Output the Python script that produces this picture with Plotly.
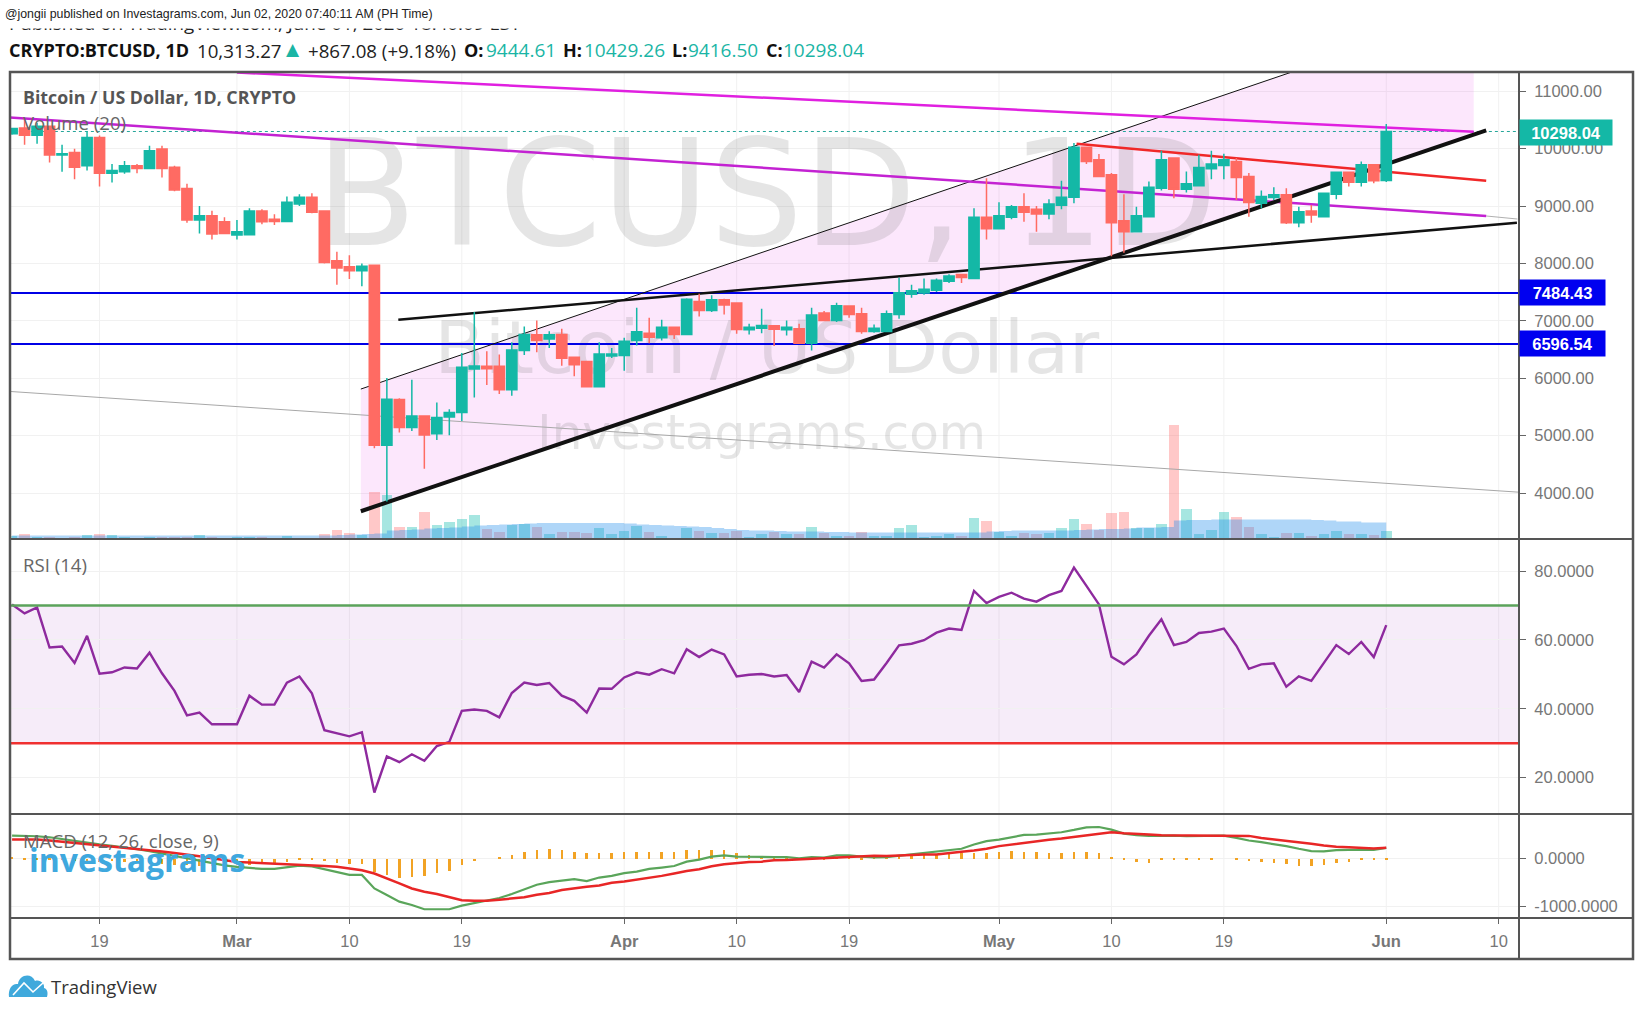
import pandas as pd
import plotly.graph_objects as go

W, H = 1643, 1014

# ---- daily bars, 12 Feb 2020 to 1 Jun 2020 ----
dates = pd.date_range("2020-02-12", "2020-06-01", freq="D")

opens = [10260,10360,10232,10389,9887,9934,9701,10195,9572,9596,9701,9654,9993,9677,9304,8756,8832,8727,8493,8499,
         8913,8767,8732,9035,9152,8913,8044,7940,7870,7969,4830,5630,5140,5343,5034,5326,5402,6160,6207,6207,
         5799,6481,6755,6685,6761,6364,6289,5851,6388,6394,6656,6784,6703,6889,6761,7338,7181,7368,7309,6843,
         6872,6913,6843,6860,6609,7134,7006,7257,7123,6814,6814,7111,7461,7484,7531,7689,7805,7735,8803,8604,
         8803,8989,8943,8861,9013,9153,10022,9806,9544,8744,8552,8814,9310,9835,9293,9351,9649,9707,9777,9514,
         9048,9147,9194,8709,8914,8814,9205,9590,9415,9718,9444.61]
highs = [10360,10535,10447,10389,10068,9998,10300,10230,9730,9782,9730,10050,10050,9700,9386,9000,8919,8802,8756,8960,
         8942,8855,9164,9205,9222,8913,8202,8143,8000,7970,6003,5650,5974,5343,5577,5460,6440,7152,6470,6411,
         6627,6901,7006,6820,6860,6364,6289,6627,6528,6703,7228,7053,7018,6889,7395,7473,7443,7385,7309,6948,
         7210,6913,7006,6948,7228,7169,7315,7257,7228,6936,7181,7753,7630,7735,7735,7811,7805,8960,9485,9065,
         9019,9223,9001,9118,9439,10098,10022,9905,9573,9205,8989,9427,9964,9835,9602,9894,9964,9911,9835,9573,
         9269,9328,9310,8989,9019,9223,9602,9602,9777,9718,10429.26]
lows = [10240,10068,10086,9759,9596,9467,9619,9339,9410,9560,9572,9654,9496,9257,8709,8522,8417,8522,8417,8499,
        8680,8668,8732,9000,8872,7997,7630,7730,7600,4778,3850,5052,5081,4422,4924,5005,5256,5665,5880,5723,
        5694,6405,6452,6528,6218,6032,5851,5851,6353,6131,6569,6609,6656,6685,6761,7076,7152,7111,6773,6761,
        6784,6563,6744,6609,6481,7006,6977,7053,6773,6790,6814,7035,7403,7455,7502,7660,7660,7735,8418,8604,
        8768,8727,8552,8768,8943,9048,9730,9514,8126,8184,8552,8814,9269,9135,9234,9351,9468,9468,9106,8814,
        8960,9106,8686,8628,8709,8814,9118,9340,9340,9398,9416.50]
closes = [10350,10232,10389,9887,9910,9677,10195,9572,9619,9701,9654,9964,9654,9280,8756,8832,8511,8522,8552,8913,
          8727,8732,9065,9152,8890,8015,7922,7870,7952,4831,5635,5140,5343,5011,5314,5402,6190,6213,6166,5799,
          6493,6761,6656,6755,6347,6236,5851,6423,6423,6644,6808,6714,6889,6761,7374,7181,7368,7274,6849,6889,
          6919,6854,6889,6609,7099,7006,7263,7111,6814,6872,7123,7490,7525,7549,7706,7782,7753,8803,8604,8832,
          8989,8890,8861,9036,9153,10022,9777,9514,8709,8552,8832,9328,9806,9293,9386,9672,9730,9806,9497,9059,
          9164,9194,8709,8902,8844,9223,9590,9415,9718,9439,10298.04]

volumes = [4,6,3,3,2,3,5,6,5,3,1,3,3,3,3,5,3,2,3,3,
           3,2,4,2,2,6,10,7,5,48,45,13,13,28,15,18,21,25,11,8,
           15,16,13,6,8,8,7,12,6,9,14,8,4,2,12,9,7,7,9,3,
           6,8,6,6,13,7,4,4,8,4,4,12,15,3,4,6,4,22,19,8,
           4,7,6,7,12,21,16,10,27,28,12,12,16,115,31,6,10,28,23,13,
           6,3,7,7,4,6,9,6,6,5,9]
volume_ma = [4,4,4,4,4,4,4,4,4,4,4,4,4,4,4,4,4,4,4,4,
             4,4,4,4,4,4,4.5,5,5.5,6,9,9.5,10,11,11.5,12,13,14,14.5,15,
             15.5,16,16.5,16.5,16.5,16.5,16.5,16.5,16.5,16,15,14.5,14,13.5,13,12.5,11.5,10.5,9.5,9,
             9,8.5,8,8,8,7.5,7.5,7,7,7,7,7,7,7,7,7,7,7,8,8.5,
             9,9,9,9,9,9.5,10,10.5,10.5,11,12,12,12.5,19,19.5,19.5,20,20,20,20,
             20,20,20,20,19.5,19,18,18,17,17,16]

rsi = [70.3,67.7,69.4,57.8,58.1,53.3,61.2,50.2,50.6,52,51.7,56.3,50.3,45.2,38.1,38.9,35.5,35.5,35.5,43.8,
       41.2,41.2,47.6,49.4,44.5,33.8,32.9,32,33.2,15.7,26.2,24.5,26.8,24.9,29.2,30.4,39.4,39.8,39.4,37.5,
       44.6,47.6,46.9,47.5,43.8,42.3,38.9,45.9,45.8,49.1,50.6,49.9,51.5,50.3,57.3,55,57.2,55.8,49.4,49.9,
       50.1,49.4,49.8,44.9,53.7,52,55.8,53.2,48.1,48.5,53.3,58.4,58.9,59.9,62.1,63.3,62.9,74.2,70.7,72.5,
       73.7,72,71.1,73,74.2,81,75.7,70.3,55.1,52.9,55.8,61.2,66,58.5,59.4,62,62.4,63.3,58.3,51.6,
       52.9,53.2,46.4,49.4,48.1,53.4,58.5,55.9,59.4,55,64.3]

macd_line = [486,486,472,450,410,370,333,300,270,240,200,160,110,60,0,-50,-100,-140,-173,-200,
             -215,-215,-180,-146,-160,-222,-278,-340,-340,-625,-763,-902,-972,-1062,-1062,-1062,-985,-930,-867,-826,
             -743,-645,-548,-493,-465,-430,-472,-396,-361,-305,-271,-215,-187,-153,-62,-21,42,69,42,35,
             35,35,35,7,35,21,69,69,42,28,35,62,90,125,153,180,208,298,368,402,
             458,500,507,527,555,604,659,666,611,527,493,479,486,486,472,472,486,486,437,382,
             347,312,264,208,160,153,180,187,187,187,229]
macd_signal = [402,402,402,380,355,333,310,285,264,240,210,180,150,120,90,50,10,-30,-69,-80,
               -90,-100,-111,-130,-146,-153,-167,-208,-243,-312,-409,-520,-625,-694,-743,-805,-874,-881,-881,-860,
               -840,-812,-756,-722,-659,-618,-590,-562,-507,-479,-444,-409,-361,-312,-257,-222,-160,-118,-90,-69,
               -62,-35,-28,-15,5,15,28,40,55,62,55,69,83,90,90,111,146,173,208,264,
               298,340,375,396,423,458,493,520,555,534,527,507,493,493,493,493,493,479,479,479,
               437,402,382,347,312,278,250,243,222,215,229]
macd_hist = [15,-15,-20,-25,-30,-40,-45,-70,-55,-70,-75,-90,-110,-130,-140,-150,-160,-150,-130,-130,
             -100,-100,-70,-20,-15,-50,-100,-120,-110,-280,-340,-410,-380,-370,-310,-250,-140,-50,0,15,
             85,145,190,210,180,150,115,115,115,140,140,140,140,140,180,180,180,180,115,75,
             50,40,30,10,10,-10,15,20,-8,10,25,50,70,85,85,100,110,125,130,140,
             165,140,140,120,110,140,140,120,15,-20,-70,-80,-20,-25,-25,-30,-35,0,-20,-50,
             -70,-80,-110,-150,-160,-130,-90,-60,-30,-20,-10]

# ---- drawing tools on the price pane ----
level_upper = 7484.43
level_lower = 6596.54
last_close = 10298.04

channel_x = ["2020-03-10 22:00", "2020-06-08", "2020-06-08", "2020-03-10 22:00", "2020-03-10 22:00"]
channel_y = [3682, 10249, 12413, 5811, 3682]
support_x = ["2020-03-10 22:00", "2020-06-09"]
support_y = [3682, 10318]
channel_top_x = ["2020-03-10 22:00", "2020-06-08"]
channel_top_y = [5811, 12413]
wedge_x = ["2020-03-13 22:00", "2020-06-11 11:00"]
wedge_y = [7018, 8709]
resist_high_x = ["2020-03-01", "2020-06-08"]
resist_high_y = [11326, 10295]
resist_mid_x = ["2020-02-11 20:00", "2020-06-09"]
resist_mid_y = [10540, 8826]
resist_tail_x = ["2020-06-09", "2020-06-11 12:00"]
resist_tail_y = [8826, 8773]
red_x = ["2020-05-07 05:00", "2020-06-09"]
red_y = [10086, 9438]
grey_x = ["2020-02-11 20:00", "2020-06-11 15:00"]
grey_y = [5769, 4014]

date_ticks = ["2020-02-19","2020-03-01","2020-03-10","2020-03-19","2020-04-01","2020-04-10",
              "2020-04-19","2020-05-01","2020-05-10","2020-05-19","2020-06-01","2020-06-10"]
date_labels = ["19","<b>Mar</b>","10","19","<b>Apr</b>","10","19","<b>May</b>","10","19","<b>Jun</b>","10"]
price_ticks = [4000,5000,6000,7000,8000,9000,10000,11000]
rsi_ticks = [20,40,60,80]
macd_ticks = [-1000,0]

TEAL, RED = "#14b8a6", "#ff6b63"
AXIS_FONT = dict(family="Liberation Sans", size=16.5, color="#777777")
SANS = "Open Sans"
MARK = "DejaVu Sans"
ONE_DAY_MS = 86400000


def px(x):
    return x / W


def py(y):
    return 1 - y / H


fig = go.Figure()

# pink channel and large background captions
fig.add_trace(go.Scatter(x=channel_x, y=channel_y, yaxis="y", mode="none", fill="toself",
                         fillcolor="rgba(230,60,230,0.12)", hoverinfo="skip"))
for caption, cx, cy, size in [("BTCUSD, 1D", "2020-04-12 10:00", 8955, 147.5),
                              ("Bitcoin / US Dollar", "2020-04-12 10:00", 6417, 73.5),
                              ("Investagrams.com", "2020-04-12 00:00", 4970, 48.4)]:
    fig.add_trace(go.Scatter(x=[cx], y=[cy], yaxis="y", mode="text", text=[caption], textposition="middle center",
                             textfont=dict(family=MARK, size=size, color="rgba(110,110,110,0.18)"), hoverinfo="skip"))

# volume
bar_colors = ["rgba(20,190,175,0.38)" if c >= o else "rgba(255,110,110,0.38)" for o, c in zip(opens, closes)]
fig.add_trace(go.Bar(x=dates, y=volumes, yaxis="y2", marker=dict(color=bar_colors, line_width=0),
                     width=0.84 * ONE_DAY_MS, hoverinfo="skip"))
fig.add_trace(go.Scatter(x=dates, y=volume_ma, yaxis="y2", mode="none", fill="tozeroy", line_shape="hv",
                         fillcolor="rgba(33,140,235,0.36)", hoverinfo="skip"))

# trend lines and levels
span = [dates[0] - pd.Timedelta(hours=10), "2020-06-11 15:00"]
segments = [
    (grey_x, grey_y, "#a8a8a8", 1, "solid"),
    (resist_tail_x, resist_tail_y, "#b0b0b0", 1, "solid"),
    (span, [level_upper] * 2, "#0000e6", 2, "solid"),
    (span, [level_lower] * 2, "#0000e6", 2, "solid"),
    (span, [last_close] * 2, "#26a69a", 1, "dot"),
    (channel_top_x, channel_top_y, "#111111", 1, "solid"),
    (wedge_x, wedge_y, "#111111", 2.5, "solid"),
    (resist_high_x, resist_high_y, "#e020e0", 2.5, "solid"),
    (resist_mid_x, resist_mid_y, "#c322d2", 2.5, "solid"),
    (red_x, red_y, "#f02828", 2.5, "solid"),
    (support_x, support_y, "#111111", 4, "solid"),
]
for sx, sy, col, lw, dash in segments:
    fig.add_trace(go.Scatter(x=sx, y=sy, yaxis="y3", mode="lines", line=dict(color=col, width=lw, dash=dash),
                             hoverinfo="skip"))

# candles
fig.add_trace(go.Candlestick(x=dates, open=opens, high=highs, low=lows, close=closes, yaxis="y4",
                             increasing=dict(line=dict(color=TEAL, width=1.5), fillcolor=TEAL),
                             decreasing=dict(line=dict(color=RED, width=1.5), fillcolor=RED),
                             whiskerwidth=0, hoverinfo="skip"))

# RSI pane
fig.add_trace(go.Scatter(x=dates, y=rsi, yaxis="y5", mode="lines", line=dict(color="#8e2a9e", width=2.4),
                         hoverinfo="skip"))
fig.add_trace(go.Scatter(x=span, y=[70, 70], yaxis="y5", mode="lines", line=dict(color="#5ba35b", width=2.4),
                         hoverinfo="skip"))
fig.add_trace(go.Scatter(x=span, y=[30, 30], yaxis="y5", mode="lines", line=dict(color="#f03030", width=2.4),
                         hoverinfo="skip"))

# MACD pane
fig.add_trace(go.Bar(x=dates, y=macd_hist, yaxis="y6", marker=dict(color="#f2a324", line_width=0),
                     width=0.2 * ONE_DAY_MS, hoverinfo="skip"))
fig.add_trace(go.Scatter(x=dates, y=macd_line, yaxis="y6", mode="lines", line=dict(color="#5aa55a", width=2.2),
                         hoverinfo="skip"))
fig.add_trace(go.Scatter(x=dates, y=macd_signal, yaxis="y6", mode="lines", line=dict(color="#e82626", width=2.5),
                         hoverinfo="skip"))


def ann(text, x, y, size, color="#333333", family=SANS, bold=False, **kw):
    label = f"<b>{text}</b>" if bold else text
    base = dict(text=label, x=px(x), y=py(y), xref="paper", yref="paper", xanchor="left", yanchor="middle",
                showarrow=False, font=dict(family=family, size=size, color=color), xshift=-2)
    base.update(kw)
    return base


def hline(y, x0=10, x1=1633):
    return dict(type="line", xref="paper", yref="paper", x0=px(x0), x1=px(x1), y0=py(y), y1=py(y),
                line=dict(color="#555555", width=2), layer="above")


shapes = []
# vertical grid through every pane
for d in date_ticks:
    shapes.append(dict(type="line", xref="x", yref="paper", x0=d, x1=d, y0=py(918), y1=py(72),
                       line=dict(color="#f1f1f1", width=1), layer="below"))
# RSI 30-70 band
shapes.append(dict(type="rect", xref="paper", yref="y5", x0=px(10), x1=px(1519), y0=30, y1=70,
                   fillcolor="rgba(150,40,180,0.085)", line_width=0, layer="below"))
# frame and pane dividers
shapes.append(dict(type="rect", xref="paper", yref="paper", x0=px(10), x1=px(1633), y0=py(959), y1=py(72),
                   line=dict(color="#555555", width=2.5), layer="above"))
shapes += [hline(539), hline(814), hline(918)]
shapes.append(dict(type="line", xref="paper", yref="paper", x0=px(1519), x1=px(1519), y0=py(959), y1=py(72),
                   line=dict(color="#555555", width=2), layer="above"))

# cloud emblem beside the footer wordmark
cloud = (f"M {px(9)} {py(997)} C {px(8)} {py(989)}, {px(12)} {py(983)}, {px(18)} {py(984)} "
         f"C {px(19)} {py(975)}, {px(31)} {py(972)}, {px(35)} {py(981)} "
         f"C {px(40)} {py(979)}, {px(45)} {py(984)}, {px(44)} {py(988)} "
         f"C {px(48)} {py(989)}, {px(48)} {py(994)}, {px(47)} {py(997)} Z")
shapes.append(dict(type="path", xref="paper", yref="paper", path=cloud, fillcolor="#3fa9dc", line_width=0,
                   layer="above"))
trace_line = f"M {px(13)} {py(995)} L {px(24)} {py(983)} L {px(33)} {py(992)} L {px(43)} {py(983)}"
shapes.append(dict(type="path", xref="paper", yref="paper", path=trace_line,
                   line=dict(color="white", width=1.6), layer="above"))

hdr_size = 18.7
hdr_bold = 18
annotations = [
    ann("Published on TradingView.com, June 01, 2020 18:40:09 EST", 9, 23, 18.8, color="#222222"),
    ann("@jongii published on Investagrams.com, Jun 02, 2020 07:40:11 AM (PH Time)", 5, 14, 12.33,
        color="#222222", family="Liberation Sans", bgcolor="white", width=1643, height=27, align="left"),
    ann("CRYPTO:BTCUSD, 1D", 9, 50, hdr_bold, color="#111111", bold=True),
    ann("10,313.27", 197, 50, hdr_size, color="#222222"),
    ann("▲", 286, 49, 17, color="#1ab5a5", family="DejaVu Sans"),
    ann("+867.08 (+9.18%)", 308, 50, hdr_size, color="#222222"),
    ann("O:", 464, 50, hdr_bold, color="#111111", bold=True),
    ann("9444.61", 486, 50, 19, color="#1ab5a5"),
    ann("H:", 563, 50, hdr_bold, color="#111111", bold=True),
    ann("10429.26", 584, 50, 19, color="#1ab5a5"),
    ann("L:", 672, 50, hdr_bold, color="#111111", bold=True),
    ann("9416.50", 688, 50, 19, color="#1ab5a5"),
    ann("C:", 766, 50, hdr_bold, color="#111111", bold=True),
    ann("10298.04", 783, 50, 19, color="#1ab5a5"),
    ann("Bitcoin / US Dollar, 1D, CRYPTO", 23, 97, 17.8, color="#555555", bold=True),
    ann("Volume (20)", 23, 123, 18.6, color="#666666"),
    ann("RSI (14)", 23, 564, 18.6, color="#666666"),
    ann("MACD (12, 26, close, 9)", 23, 840, 18.6, color="#666666"),
    ann("investagrams", 29, 859, 32, color="#3fa8de", bold=True),
    ann("TradingView", 51, 986, 18.5, color="#333333"),
    ann("10298.04", 1519, 132, 16.5, color="white", family="Liberation Sans", bold=True, bgcolor=TEAL,
        width=90, height=23, align="center", xshift=0),
    ann(f"{level_upper:.2f}", 1519, 292.5, 16.5, color="white", family="Liberation Sans", bold=True, bgcolor="#0000f0",
        width=83, height=23, align="center", xshift=0),
    ann(f"{level_lower:.2f}", 1519, 343.5, 16.5, color="white", family="Liberation Sans", bold=True, bgcolor="#0000f0",
        width=83, height=23, align="center", xshift=0),
]

price_range = [3189.9, 11334.5]
price_dom = [py(539.5), py(72)]
hidden = dict(visible=False, showgrid=False, zeroline=False, fixedrange=True)
right_axis = dict(side="right", anchor="x", ticks="outside", ticklen=6, tickcolor="#666666", tickfont=AXIS_FONT,
                  showgrid=True, gridcolor="#f1f1f1", gridwidth=1, zeroline=False, showline=False,
                  ticklabelstandoff=5, fixedrange=True)

fig.update_layout(
    width=W, height=H, margin=dict(l=0, r=0, t=0, b=0), paper_bgcolor="white", plot_bgcolor="white",
    showlegend=False, boxgap=0.18, boxgroupgap=0, bargap=0, barmode="overlay", autosize=False,
    xaxis=dict(domain=[px(10), px(1519)], anchor="y6", type="date",
               range=["2020-02-11 20:00", "2020-06-11 15:00"], tickmode="array", tickvals=date_ticks,
               ticktext=date_labels, ticks="outside", ticklen=5, tickcolor="#666666", tickfont=AXIS_FONT,
               showgrid=False, zeroline=False, rangeslider=dict(visible=False), ticklabelstandoff=3,
               fixedrange=True),
    yaxis=dict(domain=price_dom, range=price_range, tickmode="array", tickvals=price_ticks,
               ticktext=[f"{v:.2f}" for v in price_ticks], **right_axis),
    yaxis2=dict(domain=price_dom, range=[0, 467.5], overlaying="y", anchor="x", **hidden),
    yaxis3=dict(domain=price_dom, range=price_range, overlaying="y", anchor="x", **hidden),
    yaxis4=dict(domain=price_dom, range=price_range, overlaying="y", anchor="x", **hidden),
    yaxis5=dict(domain=[py(814), py(539.5)], range=[9.46, 89.15], tickmode="array", tickvals=rsi_ticks,
                ticktext=[f"{v:.4f}" for v in rsi_ticks], **right_axis),
    yaxis6=dict(domain=[py(918), py(814)], range=[-1246, 939], tickmode="array", tickvals=macd_ticks,
                ticktext=[f"{v:.4f}" for v in macd_ticks], **right_axis),
    shapes=shapes, annotations=annotations,
)

fig.write_html("out.html", config=dict(displayModeBar=False))
